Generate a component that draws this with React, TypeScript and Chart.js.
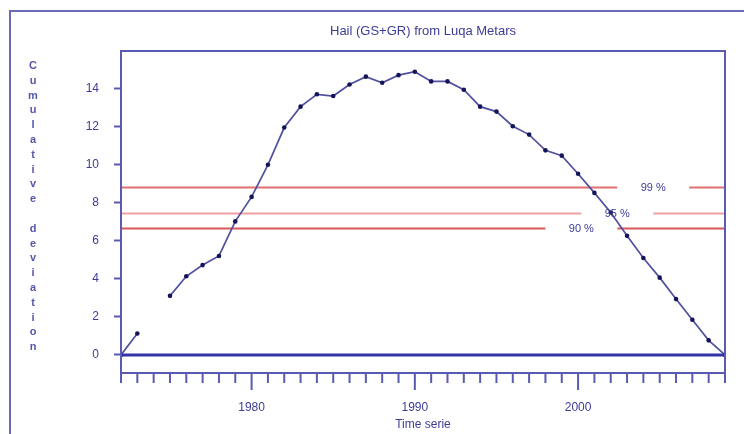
import React, { useEffect, useRef } from "react";
import { Chart, registerables } from "chart.js";

Chart.register(...registerables);

// ---- data ----
const years: number[] = [
  1972, 1973, 1974, 1975, 1976, 1977, 1978, 1979, 1980, 1981, 1982, 1983, 1984,
  1985, 1986, 1987, 1988, 1989, 1990, 1991, 1992, 1993, 1994, 1995, 1996, 1997,
  1998, 1999, 2000, 2001, 2002, 2003, 2004, 2005, 2006, 2007, 2008, 2009,
];
const cumulativeDeviation: (number | null)[] = [
  0, 1.13, null, 3.11, 4.14, 4.73, 5.21, 7.03, 8.32, 10.01, 11.97, 13.07, 13.72,
  13.63, 14.24, 14.65, 14.33, 14.73, 14.91, 14.4, 14.4, 13.96, 13.07, 12.81,
  12.04, 11.6, 10.77, 10.49, 9.54, 8.53, 7.5, 6.27, 5.1, 4.07, 2.94, 1.85, 0.77, 0,
];
const levelNames: string[] = ["99 %", "95 %", "90 %"];
const levelValues: number[] = [8.84, 7.45, 6.69];
const levelLabelYears: number[] = [2004.6, 2002.4, 2000.2];
const yTickValues: number[] = [0, 2, 4, 6, 8, 10, 12, 14];
const titleText = "Hail (GS+GR) from Luqa Metars";
const xTitleText = "Time serie";
const yTitleText = "Cumulative deviation";

// ---- styles ----
const FONT = "'Liberation Sans', Arial, sans-serif";
const TEXT_COLOR = "#3c3c98";
const AXIS_COLOR = "#5a5ab0";
const levelColors = ["#e07070", "#f0a0a0", "#d85858"];

const decorPlugin = {
  id: "decor",
  beforeDraw(chart: any) {
    const ctx = chart.ctx;
    ctx.save();
    ctx.fillStyle = "#ffffff";
    ctx.fillRect(0, 0, chart.width, chart.height);
    ctx.strokeStyle = "#6a6ab8";
    ctx.lineWidth = 2;
    ctx.beginPath();
    ctx.moveTo(10, chart.height);
    ctx.lineTo(10, 11);
    ctx.lineTo(chart.width, 11);
    ctx.stroke();
    ctx.restore();
  },
  beforeDatasetsDraw(chart: any) {
    const ctx = chart.ctx;
    const { left, right } = chart.chartArea;
    const xs = chart.scales.x;
    const ys = chart.scales.y;
    ctx.save();
    levelValues.forEach((v, i) => {
      const y = Math.round(ys.getPixelForValue(v)) + 0.5;
      const cx = xs.getPixelForValue(levelLabelYears[i]);
      ctx.strokeStyle = levelColors[i];
      ctx.lineWidth = 2;
      ctx.beginPath();
      ctx.moveTo(left, y);
      ctx.lineTo(cx - 36, y);
      ctx.moveTo(cx + 36, y);
      ctx.lineTo(right, y);
      ctx.stroke();
    });
    ctx.restore();
  },
  afterDatasetsDraw(chart: any) {
    const ctx = chart.ctx;
    const { left, right, top, bottom } = chart.chartArea;
    const xs = chart.scales.x;
    const ys = chart.scales.y;
    ctx.save();
    const y0 = ys.getPixelForValue(0);
    ctx.strokeStyle = "#3434a8";
    ctx.lineWidth = 3;
    ctx.beginPath();
    ctx.moveTo(left, y0);
    ctx.lineTo(right, y0);
    ctx.stroke();
    ctx.strokeStyle = AXIS_COLOR;
    ctx.lineWidth = 2;
    ctx.strokeRect(left, top, right - left, bottom - top);
    ctx.beginPath();
    xs.ticks.forEach((t: any) => {
      const x = xs.getPixelForValue(t.value);
      const len = t.value % 10 === 0 ? 17 : 10;
      ctx.moveTo(x, bottom);
      ctx.lineTo(x, bottom + len);
    });
    ctx.stroke();
    ctx.fillStyle = TEXT_COLOR;
    ctx.font = `11px ${FONT}`;
    ctx.textAlign = "center";
    ctx.textBaseline = "middle";
    levelNames.forEach((name, i) => {
      ctx.fillText(name, xs.getPixelForValue(levelLabelYears[i]), ys.getPixelForValue(levelValues[i]) + 1);
    });
    ctx.font = `13px ${FONT}`;
    ctx.fillText(titleText, (left + right) / 2, 31);
    ctx.font = `bold 11px ${FONT}`;
    ctx.fillStyle = "#5656ac";
    yTitleText.split("").forEach((ch, i) => {
      if (ch !== " ") ctx.fillText(ch, 33, 66 + i * 14.8);
    });
    ctx.restore();
  },
};

export default function App() {
  const ref = useRef<HTMLCanvasElement>(null);
  useEffect(() => {
    if (!ref.current) return;
    const points = years.map((yr, i) => ({ x: yr, y: cumulativeDeviation[i] }));
    const chart = new Chart(ref.current, {
      type: "line",
      data: {
        datasets: [
          {
            data: points as any,
            borderColor: "#50509e",
            borderWidth: 1.7,
            pointRadius: 2.3,
            pointBackgroundColor: "#14145a",
            pointBorderWidth: 0,
            spanGaps: false,
            tension: 0,
          },
        ],
      },
      options: {
        responsive: false,
        animation: false,
        devicePixelRatio: 1,
        layout: { padding: { top: 51, right: 17, left: 0, bottom: 0 } },
        plugins: { legend: { display: false }, tooltip: { enabled: false } },
        scales: {
          x: {
            type: "linear",
            min: 1972,
            max: 2009,
            grid: { display: false },
            border: { display: false },
            ticks: {
              stepSize: 1,
              autoSkip: false,
              maxRotation: 0,
              padding: 19,
              color: TEXT_COLOR,
              font: { family: FONT, size: 12 },
              callback: (v: any) => (Number(v) % 10 === 0 ? String(v) : ""),
            },
            title: {
              display: true,
              text: xTitleText,
              color: TEXT_COLOR,
              font: { family: FONT, size: 12 },
              padding: { top: 0, bottom: 2 },
            },
            afterFit: (s: any) => {
              s.height = 61;
            },
          },
          y: {
            type: "linear",
            min: -0.95,
            max: 16,
            grid: {
              drawOnChartArea: false,
              drawTicks: true,
              tickLength: 7,
              tickColor: AXIS_COLOR,
              tickWidth: 2,
            },
            border: { display: false },
            ticks: {
              padding: 15,
              color: TEXT_COLOR,
              font: { family: FONT, size: 12 },
            },
            afterBuildTicks: (s: any) => {
              s.ticks = yTickValues.map((v) => ({ value: v }));
            },
            afterFit: (s: any) => {
              s.width = 121;
            },
          },
        },
      },
      plugins: [decorPlugin],
    });
    return () => chart.destroy();
  }, []);
  return (
    <div style={{ position: "fixed", left: 0, top: 0, width: 744, height: 434 }}>
      <canvas ref={ref} width={744} height={434} style={{ display: "block", width: 744, height: 434 }} />
    </div>
  );
}
